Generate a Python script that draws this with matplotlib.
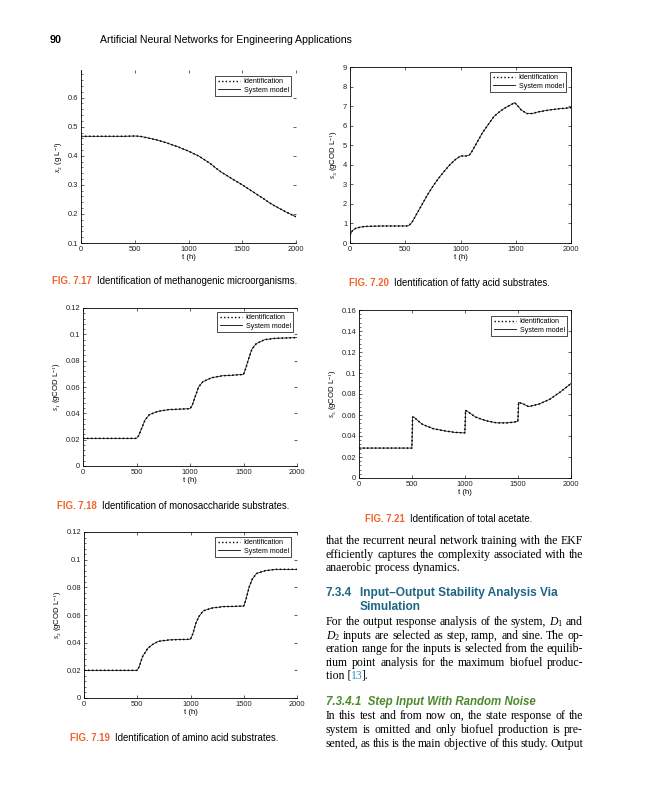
import numpy as np
import matplotlib.pyplot as plt
from matplotlib.lines import Line2D
from matplotlib.ticker import AutoMinorLocator, FuncFormatter

W, H = 648, 800

# --- data ---
# Fig 7.17 methanogenic microorganisms
t_717 = [0, 100, 200, 300, 400, 500, 550, 600, 700, 800, 900, 1000, 1100, 1200,
         1250, 1300, 1400, 1500, 1600, 1700, 1750, 1800, 1900, 2000]
x2_717 = [0.467, 0.467, 0.467, 0.467, 0.467, 0.468, 0.467, 0.463, 0.455, 0.444,
          0.431, 0.416, 0.398, 0.374, 0.359, 0.345, 0.322, 0.300, 0.276, 0.252,
          0.239, 0.228, 0.208, 0.190]

# Fig 7.20 fatty acid substrates
t_720 = [0, 20, 50, 100, 150, 200, 300, 400, 500, 530, 560, 600, 650, 700, 750,
         800, 850, 900, 950, 1000, 1050, 1080, 1100, 1150, 1200, 1250, 1300, 1350,
         1400, 1450, 1490, 1520, 1550, 1600, 1650, 1700, 1800, 1900, 2000]
s3_720 = [0.40, 0.62, 0.75, 0.82, 0.85, 0.86, 0.87, 0.87, 0.87, 0.88, 1.05, 1.45,
          1.95, 2.45, 2.90, 3.30, 3.65, 3.98, 4.25, 4.45, 4.45, 4.50, 4.65, 5.15,
          5.65, 6.05, 6.45, 6.70, 6.90, 7.05, 7.18, 7.00, 6.80, 6.62, 6.62, 6.70,
          6.80, 6.87, 6.92]

# Fig 7.18 monosaccharide substrates
t_718 = [0, 250, 500, 520, 550, 580, 620, 700, 800, 900, 1000, 1020, 1050, 1080,
         1120, 1200, 1300, 1400, 1500, 1520, 1550, 1580, 1620, 1700, 1800, 2000]
s1_718 = [0.021, 0.021, 0.021, 0.023, 0.029, 0.035, 0.039, 0.0415, 0.0428, 0.0432,
          0.0435, 0.046, 0.053, 0.060, 0.064, 0.067, 0.0685, 0.069, 0.0695, 0.074,
          0.082, 0.089, 0.093, 0.096, 0.097, 0.0975]

# Fig 7.21 total acetate
t_721 = [0, 250, 499, 505, 520, 550, 600, 700, 800, 900, 980, 999, 1005, 1030,
         1100, 1200, 1300, 1400, 1480, 1499, 1505, 1550, 1600, 1700, 1800, 1900, 2000]
s5_721 = [0.0285, 0.0285, 0.0285, 0.058, 0.058, 0.055, 0.051, 0.047, 0.045, 0.0435,
          0.043, 0.043, 0.0645, 0.063, 0.058, 0.0545, 0.0525, 0.0525, 0.0535, 0.054,
          0.072, 0.0705, 0.068, 0.0705, 0.075, 0.082, 0.090]

# Fig 7.19 amino acid substrates
t_719 = [0, 250, 500, 520, 550, 600, 650, 700, 800, 1000, 1020, 1050, 1080, 1120,
         1200, 1300, 1500, 1520, 1550, 1580, 1620, 1700, 1800, 2000]
s2_719 = [0.020, 0.020, 0.020, 0.023, 0.030, 0.036, 0.039, 0.041, 0.042, 0.0425,
          0.046, 0.054, 0.059, 0.063, 0.065, 0.066, 0.0665, 0.071, 0.080, 0.086,
          0.090, 0.092, 0.093, 0.093]

x_ticks = [0, 500, 1000, 1500, 2000]

SANS = ["Liberation Sans", "DejaVu Sans"]
SERIF = ["Liberation Serif", "DejaVu Serif"]
ORANGE = "#f0642d"

plt.rcParams["font.family"] = SANS
plt.rcParams["mathtext.fontset"] = "custom"
plt.rcParams["mathtext.rm"] = "Liberation Serif"
plt.rcParams["mathtext.it"] = "Liberation Serif:italic"

fig = plt.figure(figsize=(W / 100, H / 100), dpi=100)


def panel(box, t, y, ylim, yticks, ylabel, leg_corner, hide=(), minor=True):
    l, top, r, b = box
    ax = fig.add_axes([l / W, 1 - b / H, (r - l) / W, (b - top) / H])
    ax.plot(t, y, color="black", lw=0.5, zorder=2)
    ax.plot(t, y, color="black", lw=1.1, ls=(0, (1, 1.6)), zorder=3)
    ax.set_xlim(0, 2000)
    ax.set_ylim(*ylim)
    ax.set_xticks(x_ticks)
    ax.set_yticks(yticks)
    ax.yaxis.set_major_formatter(FuncFormatter(lambda v, p: "%g" % round(v, 4)))
    if minor:
        ax.yaxis.set_minor_locator(AutoMinorLocator(5))
        ax.tick_params(axis="y", which="minor", direction="in", length=1.2,
                       width=0.4, left=True, right=False)
    ax.tick_params(which="major", direction="in", length=2.5, width=0.5,
                   labelsize=5.4, top=True, right=True, pad=2, colors="#222222")
    for s in ax.spines.values():
        s.set_linewidth(0.6)
    for s in hide:
        ax.spines[s].set_visible(False)
    ax.set_xlabel("t (h)", fontsize=5.6, labelpad=1)
    ax.set_ylabel(ylabel, fontsize=5.6, labelpad=2)
    handles = [Line2D([], [], color="black", lw=1.0, ls=(0, (1, 1.6))),
               Line2D([], [], color="black", lw=0.6)]
    leg = ax.legend(handles, ["Identification", "System model"], loc="upper right",
                    bbox_to_anchor=(leg_corner[0] / W, 1 - leg_corner[1] / H),
                    bbox_transform=fig.transFigure, fontsize=5.1, fancybox=False,
                    edgecolor="black", framealpha=1, borderpad=0.3,
                    handlelength=3.2, labelspacing=0.25, handletextpad=0.5,
                    borderaxespad=0)
    leg.get_frame().set_linewidth(0.5)
    return ax


panel((81, 70, 296, 243), t_717, x2_717, (0.1, 0.695), [0.1, 0.2, 0.3, 0.4, 0.5, 0.6],
      r"$x_2$ (g L$^{-1}$)", (291, 76), hide=("top", "right"))
panel((350, 67, 571, 243), t_720, s3_720, (0, 9), list(range(10)),
      r"$s_3$ (gCOD L$^{-1}$)", (566, 72), minor=False)
panel((83, 308, 297, 466), t_718, s1_718, (0, 0.12), [0, 0.02, 0.04, 0.06, 0.08, 0.1, 0.12],
      r"$s_1$ (gCOD L$^{-1}$)", (293, 312), hide=("right",))
panel((359, 310, 571, 478), t_721, s5_721, (0, 0.16),
      [0, 0.02, 0.04, 0.06, 0.08, 0.1, 0.12, 0.14, 0.16],
      r"$s_5$ (gCOD L$^{-1}$)", (567, 316))
panel((84, 532, 297, 698), t_719, s2_719, (0, 0.12), [0, 0.02, 0.04, 0.06, 0.08, 0.1, 0.12],
      r"$s_2$ (gCOD L$^{-1}$)", (291, 537), hide=("right",))

renderer = fig.canvas.get_renderer()


def px_width(txt):
    return txt.get_window_extent(renderer).width


def put(x, y, s, **kw):
    # y is the baseline, in pixels from the top of the page
    return fig.text(x / W, 1 - y / H, s, va="baseline", ha="left", **kw)


# page header
put(50, 43, "90", fontsize=7.8, fontweight="bold")
put(100, 43, "Artificial Neural Networks for Engineering Applications", fontsize=7.6)


def caption(x, y, num, text):
    a = put(x, y, "FIG. " + num, fontsize=6.9, color=ORANGE, fontweight="bold")
    put(x + px_width(a) + 5, y, text, fontsize=6.9)


caption(52, 284, "7.17", "Identification of methanogenic microorganisms.")
caption(349, 286, "7.20", "Identification of fatty acid substrates.")
caption(57, 509, "7.18", "Identification of monosaccharide substrates.")
caption(365, 522, "7.21", "Identification of total acetate.")
caption(70, 741, "7.19", "Identification of amino acid substrates.")

# body text in the right column, justified word by word
X0, X1 = 326, 583
BODY = dict(fontsize=8.5, family=SERIF)


def justified(y, line, last=False):
    words = line.split(" ")
    items = [put(0, y, w, **BODY) for w in words]
    widths = [px_width(i) for i in items]
    gap = 2.8 if last or len(words) == 1 else (X1 - X0 - sum(widths)) / (len(words) - 1)
    x = X0
    for it, w in zip(items, widths):
        it.set_x(x / W)
        x += w + gap


justified(544, "that the recurrent neural network training with the EKF")
justified(558, "efficiently captures the complexity associated with the")
justified(571, "anaerobic process dynamics.", last=True)

HEAD = dict(fontsize=8.6, fontweight="bold", color="#1f6586")
put(X0, 596, "7.3.4", **HEAD)
put(360, 596, "Input\u2013Output Stability Analysis Via", **HEAD)
put(360, 610, "Simulation", **HEAD)

justified(625, "For the output response analysis of the system, $D_1$ and")
justified(639, "$D_2$ inputs are selected as step, ramp, and sine. The op-")
justified(652, "eration range for the inputs is selected from the equilib-")
justified(666, "rium point analysis for the maximum biofuel produc-")
a = put(X0, 679, "tion [", **BODY)
b = put(X0 + px_width(a) - 0.5, 679, "13", color="#2a8fc4", **BODY)
put(X0 + px_width(a) + px_width(b) - 1.5, 679, "].", **BODY)

SUB = dict(fontsize=8.3, fontweight="bold", style="italic", color="#4b8a2c")
put(X0, 705, "7.3.4.1  Step Input With Random Noise", **SUB)
justified(719, "In this test and from now on, the state response of the")
justified(733, "system is omitted and only biofuel production is pre-")
justified(747, "sented, as this is the main objective of this study. Output")

fig.savefig("out.png", dpi=100, facecolor="white")
